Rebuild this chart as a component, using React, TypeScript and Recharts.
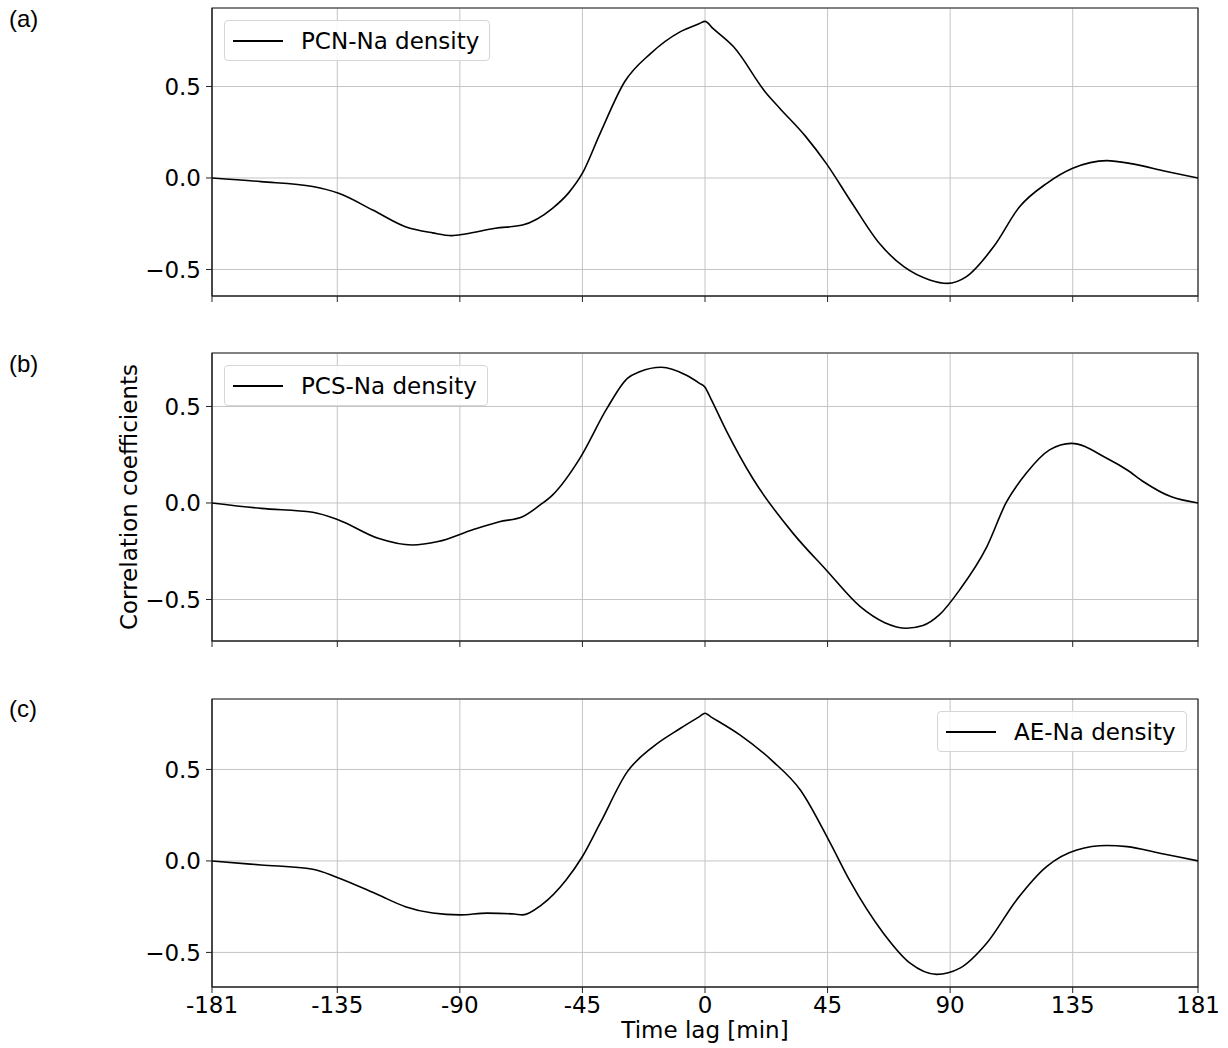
import { LineChart, Line, XAxis, YAxis, CartesianGrid, ReferenceArea, Legend, Label } from "recharts";

const xTicks = [-181, -135, -90, -45, 0, 45, 90, 135, 181];
const yTicks = [-0.5, 0, 0.5];

// (a) PCN-Na density
const lagsA = [-181, -163, -144, -134.5, -122, -110, -100, -93, -88, -77, -67, -56, -50, -45, -38.5, -29.5, -20, -9, -2, 0, 3, 10.5, 22.5, 27.5, 37, 44.5, 54, 64, 73, 82.5, 89, 96, 106, 115.5, 125.5, 135, 147.5, 157, 169.5, 181];
const corrA = [0, -0.02, -0.047, -0.084, -0.175, -0.266, -0.3, -0.315, -0.306, -0.275, -0.257, -0.166, -0.08, 0.026, 0.244, 0.526, 0.68, 0.8, 0.844, 0.856, 0.816, 0.717, 0.463, 0.38, 0.226, 0.08, -0.138, -0.357, -0.485, -0.557, -0.576, -0.539, -0.375, -0.157, -0.029, 0.053, 0.095, 0.077, 0.035, 0];

// (b) PCS-Na density
const lagsB = [-181, -163, -144, -134.5, -120, -107.5, -98, -85.5, -75.5, -67, -60.5, -56, -46, -36, -28.5, -24, -16, -7, -2, 0, 2, 8, 17.5, 32.5, 44.5, 57, 66, 74, 80, 86, 93.5, 103.5, 110.5, 118, 126.5, 134.5, 147.5, 155, 161, 171, 181];
const corrB = [0, -0.028, -0.048, -0.088, -0.183, -0.218, -0.2, -0.14, -0.097, -0.071, -0.01, 0.041, 0.23, 0.49, 0.646, 0.68, 0.703, 0.663, 0.62, 0.6, 0.545, 0.37, 0.128, -0.16, -0.347, -0.537, -0.62, -0.649, -0.635, -0.58, -0.45, -0.226, 0, 0.155, 0.275, 0.309, 0.232, 0.171, 0.11, 0.033, 0];

// (c) AE-Na density
const lagsC = [-181, -163, -144, -135, -120, -110, -100, -90, -80, -70, -67, -60, -51, -45, -38.5, -28.5, -19, -9, -2, 0, 2, 12.8, 25, 35, 46, 53, 65.5, 75.3, 85, 93.6, 103.4, 114.4, 125.4, 136.5, 147.5, 155, 167, 181];
const corrC = [0, -0.022, -0.045, -0.09, -0.185, -0.25, -0.285, -0.295, -0.285, -0.29, -0.295, -0.24, -0.104, 0.024, 0.206, 0.488, 0.625, 0.725, 0.789, 0.807, 0.789, 0.689, 0.543, 0.388, 0.097, -0.104, -0.395, -0.559, -0.62, -0.586, -0.45, -0.213, -0.031, 0.06, 0.084, 0.078, 0.042, 0];

const font = "DejaVu Sans, sans-serif";
const fs = 23;

const fmtY = (v: number) => (v < 0 ? "\u2212" + Math.abs(v).toFixed(1) : v.toFixed(1));

function LegendBox({ name }: { name: string }) {
  return (
    <div
      style={{
        display: "flex",
        alignItems: "center",
        height: 39,
        border: "1px solid #d6d6d6",
        borderRadius: 4,
        background: "rgba(255,255,255,0.85)",
        padding: "0 10px 0 8px",
        fontFamily: font,
        fontSize: fs,
        whiteSpace: "nowrap",
      }}
    >
      <span style={{ display: "inline-block", width: 50, borderTop: "2px solid #000", marginRight: 18 }} />
      {name}
    </div>
  );
}

interface PanelProps {
  lags: number[];
  corr: number[];
  name: string;
  domain: [number, number];
  top: number;
  legendLeft: number;
  bottomAxis: boolean;
  yLabel?: boolean;
}

function Panel({ lags, corr, name, domain, top, legendLeft, bottomAxis, yLabel }: PanelProps) {
  const data = lags.map((t, i) => ({ lag: t, value: corr[i] }));
  const axisH = bottomAxis ? 60 : 10;
  return (
    <div style={{ position: "absolute", left: 0, top }}>
      <LineChart width={1228} height={8 + 288 + axisH} data={data} margin={{ top: 8, right: 30, bottom: 0, left: 0 }}>
        <CartesianGrid stroke="#c4c4c4" strokeWidth={1} />
        <XAxis
          dataKey="lag"
          type="number"
          domain={[-181, 181]}
          ticks={xTicks}
          allowDataOverflow
          height={axisH}
          tickSize={6}
          tickMargin={4}
          tickLine={{ stroke: "#222" }}
          axisLine={{ stroke: "#222" }}
          tick={{ fill: "#000", fontSize: fs, fontFamily: font }}
          tickFormatter={(v: number) => (bottomAxis ? String(v) : "")}
        >
          {bottomAxis && (
            <Label
              content={(props: any) => {
                const vb = props.viewBox || { x: 212, y: 296, width: 986 };
                const cx = vb.x + vb.width / 2;
                return (
                  <text x={cx} y={vb.y + 51} textAnchor="middle" style={{ fill: "#000", fontSize: fs, fontFamily: font }}>
                    Time lag [min]
                  </text>
                );
              }}
            />
          )}
        </XAxis>
        <YAxis
          type="number"
          domain={domain}
          ticks={yTicks}
          allowDataOverflow
          width={212}
          tickSize={6}
          tickMargin={5}
          tickLine={{ stroke: "#222" }}
          axisLine={{ stroke: "#222" }}
          tick={{ fill: "#000", fontSize: fs, fontFamily: font }}
          tickFormatter={fmtY}
        >
          {yLabel && (
            <Label
              content={(props: any) => {
                const vb = props.viewBox || { y: 8, height: 288 };
                const cy = vb.y + vb.height / 2;
                return (
                  <text x={137} y={cy} transform={`rotate(-90, 137, ${cy})`} textAnchor="middle" style={{ fill: "#000", fontSize: fs, fontFamily: font }}>
                    Correlation coefficients
                  </text>
                );
              }}
            />
          )}
        </YAxis>
        <ReferenceArea x1={-181} x2={181} y1={domain[0]} y2={domain[1]} fill="none" stroke="#222" strokeWidth={1.2} ifOverflow="visible" />
        <Legend
          layout="horizontal"
          verticalAlign="middle"
          align="center"
          wrapperStyle={{ position: "absolute", top: 20, left: legendLeft, width: "auto" }}
          content={() => <LegendBox name={name} />}
        />
        <Line type="monotone" dataKey="value" name={name} stroke="#000" strokeWidth={1.6} dot={false} isAnimationActive={false} />
      </LineChart>
    </div>
  );
}

const panelLabel = (text: string, top: number) => (
  <div style={{ position: "absolute", left: 9, top, fontFamily: "Liberation Sans, Arial, sans-serif", fontSize: 24, color: "#000" }}>{text}</div>
);

export default function App() {
  return (
    <div style={{ position: "absolute", left: 0, top: 0, width: 1228, height: 1048, background: "#fff", overflow: "hidden" }}>
      {panelLabel("(a)", 5)}
      {panelLabel("(b)", 350)}
      {panelLabel("(c)", 695)}
      <Panel lags={lagsA} corr={corrA} name="PCN-Na density" domain={[-0.645, 0.929]} top={0} legendLeft={224} bottomAxis={false} />
      <Panel lags={lagsB} corr={corrB} name="PCS-Na density" domain={[-0.715, 0.777]} top={345} legendLeft={224} bottomAxis={false} yLabel />
      <Panel lags={lagsC} corr={corrC} name="AE-Na density" domain={[-0.689, 0.885]} top={691} legendLeft={937} bottomAxis />
    </div>
  );
}
